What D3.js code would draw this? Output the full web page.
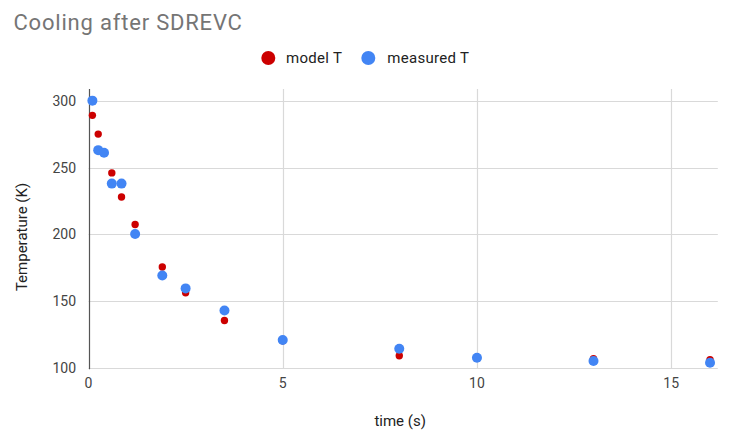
<!DOCTYPE html>
<html>
<head>
<meta charset="utf-8">
<script src="https://cdn.jsdelivr.net/npm/d3@7"></script>
<style>
  html, body { margin: 0; padding: 0; background: #fff; }
  svg { display: block; font-family: Roboto, Arial, sans-serif; }
</style>
</head>
<body>
<svg id="chart" width="732" height="441"></svg>
<script>
const title = "Cooling after SDREVC";
const seriesNames = ["model T", "measured T"];
const seriesColors = ["#cc0000", "#4285f4"];
const times = [0.1, 0.25, 0.4, 0.6, 0.85, 1.2, 1.9, 2.5, 3.5, 5, 8, 10, 13, 16];
const modelT = [289, 275, 261, 246, 228, 207.5, 175.7, 156.5, 135.7, 120.5, 109.4, 108, 107.2, 106.5];
const measuredT = [300, 263, 261, 238, 238, 200.4, 169.4, 159.7, 143.2, 121.2, 114.6, 107.9, 105.5, 104.2];
const xTicks = [0, 5, 10, 15];
const yTicks = [100, 150, 200, 250, 300];
const xTitle = "time (s)";
const yTitle = "Temperature (K)";

const svg = d3.select("#chart");
const pLeft = 88.5, pRight = 717.8, pTop = 89, pBottom = 368.3;

const x = d3.scaleLinear().domain([0, 16.2]).range([pLeft, pRight]);
const y = d3.scaleLinear().domain([100, 308.7]).range([pBottom, pTop]);

// title
svg.append("text").attr("x", 13.5).attr("y", 29.5)
  .attr("font-size", 22).attr("letter-spacing", 0.8).attr("fill", "#757575").text(title);

// legend
const legend = svg.append("g");
const legendItems = [
  {name: seriesNames[0], color: seriesColors[0], cx: 268.3, tx: 286},
  {name: seriesNames[1], color: seriesColors[1], cx: 368.3, tx: 387.3}
];
legendItems.forEach(d => {
  legend.append("circle").attr("cx", d.cx).attr("cy", 58).attr("r", 7).attr("fill", d.color);
  legend.append("text").attr("x", d.tx).attr("y", 63.3).attr("font-size", 15)
    .attr("letter-spacing", 0.3).attr("fill", "#222").text(d.name);
});

// gridlines
const grid = svg.append("g");
grid.selectAll("line.h").data(yTicks).join("line")
  .attr("x1", pLeft).attr("x2", pRight)
  .attr("y1", d => Math.round(y(d)) + 0.5).attr("y2", d => Math.round(y(d)) + 0.5)
  .attr("stroke", "#d9d9d9").attr("stroke-width", 1.2);
grid.selectAll("line.v").data(xTicks.filter(d => d !== 0)).join("line")
  .attr("x1", d => Math.round(x(d)) + 0.5).attr("x2", d => Math.round(x(d)) + 0.5)
  .attr("y1", pTop).attr("y2", pBottom)
  .attr("stroke", "#d9d9d9").attr("stroke-width", 1.2);

// y axis line
svg.append("line").attr("x1", Math.round(x(0)) + 0.5).attr("x2", Math.round(x(0)) + 0.5)
  .attr("y1", pTop).attr("y2", pBottom + 1).attr("stroke", "#555").attr("stroke-width", 1.2);

// tick labels
svg.append("g").selectAll("text").data(yTicks).join("text")
  .attr("x", 76).attr("y", d => y(d) + 5)
  .attr("text-anchor", "end").attr("font-size", 14).attr("fill", "#444")
  .text(d => d);
svg.append("g").selectAll("text").data(xTicks).join("text")
  .attr("x", d => x(d)).attr("y", 387.5)
  .attr("text-anchor", "middle").attr("font-size", 14).attr("fill", "#444")
  .text(d => d);

// axis titles
svg.append("text").attr("x", (pLeft + pRight) / 2 - 3).attr("y", 426)
  .attr("text-anchor", "middle").attr("font-size", 15).attr("fill", "#222").text(xTitle);
svg.append("text").attr("transform", `translate(27,237) rotate(-90)`)
  .attr("text-anchor", "middle").attr("font-size", 15).attr("fill", "#222").text(yTitle);

// points
const modelData = times.map((t, i) => ({t, v: modelT[i]}));
const measData = times.map((t, i) => ({t, v: measuredT[i]}));
svg.append("g").selectAll("circle").data(modelData).join("circle")
  .attr("cx", d => x(d.t)).attr("cy", d => y(d.v)).attr("r", 3.7).attr("fill", seriesColors[0]);
svg.append("g").selectAll("circle").data(measData).join("circle")
  .attr("cx", d => x(d.t)).attr("cy", d => y(d.v)).attr("r", 5).attr("fill", seriesColors[1]);
</script>
</body>
</html>
